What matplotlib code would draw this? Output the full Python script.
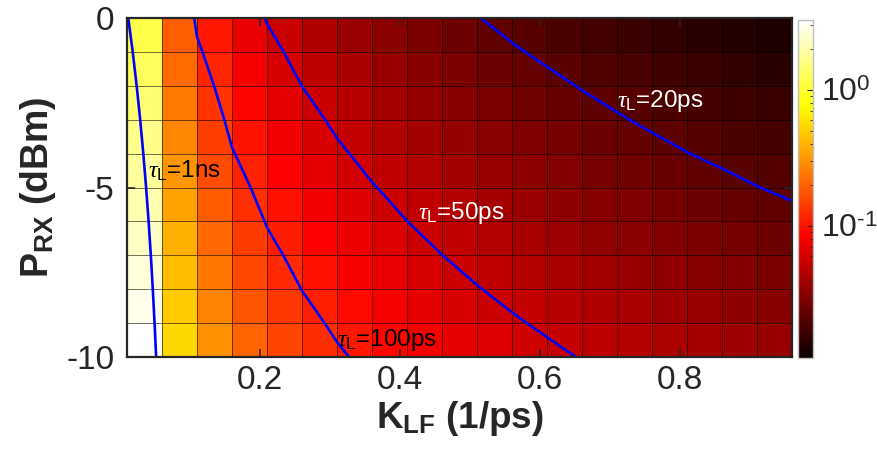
import matplotlib
matplotlib.use("Agg")
import matplotlib.pyplot as plt
import numpy as np
from matplotlib.colors import LogNorm

plt.rcParams["font.family"] = ["Liberation Sans", "DejaVu Sans"]
plt.rcParams["mathtext.fontset"] = "custom"
plt.rcParams["mathtext.rm"] = "Liberation Sans"
plt.rcParams["mathtext.it"] = "Liberation Serif:italic"
plt.rcParams["mathtext.bf"] = "Liberation Sans:bold"

# ── data ───────────────────────────────────────────────
k_lf = [0.01, 0.06, 0.11, 0.16, 0.21, 0.26, 0.31, 0.36, 0.41, 0.46,
        0.51, 0.56, 0.61, 0.66, 0.71, 0.76, 0.81, 0.86, 0.91, 0.96]
p_rx = [-10, -9, -8, -7, -6, -5, -4, -3, -2, -1, 0]

# tau_L (ns), one row per P_RX (from -10 dBm up to 0 dBm)
tau_p10 = [3.257, 0.5428, 0.2961, 0.2036, 0.1551, 0.1253, 0.1051, 0.0905, 0.0794, 0.0708,
           0.0639, 0.0582, 0.0534, 0.0493, 0.0459, 0.0429, 0.0402, 0.0379, 0.0358, 0.0339]
tau_p9 = [2.903, 0.4838, 0.2639, 0.1814, 0.1382, 0.1117, 0.0936, 0.0806, 0.0708, 0.0631,
          0.0569, 0.0518, 0.0476, 0.0440, 0.0409, 0.0382, 0.0358, 0.0338, 0.0319, 0.0302]
tau_p8 = [2.587, 0.4312, 0.2352, 0.1617, 0.1232, 0.0995, 0.0835, 0.0719, 0.0631, 0.0562,
          0.0507, 0.0462, 0.0424, 0.0392, 0.0364, 0.0340, 0.0319, 0.0301, 0.0284, 0.0269]
tau_p7 = [2.306, 0.3843, 0.2096, 0.1441, 0.1098, 0.0887, 0.0744, 0.0641, 0.0562, 0.0501,
          0.0452, 0.0412, 0.0378, 0.0349, 0.0325, 0.0303, 0.0285, 0.0268, 0.0253, 0.0240]
tau_p6 = [2.055, 0.3425, 0.1868, 0.1284, 0.0979, 0.0790, 0.0663, 0.0571, 0.0501, 0.0447,
          0.0403, 0.0367, 0.0337, 0.0311, 0.0289, 0.0270, 0.0254, 0.0239, 0.0226, 0.0214]
tau_p5 = [1.832, 0.3053, 0.1665, 0.1145, 0.0872, 0.0705, 0.0591, 0.0509, 0.0447, 0.0398,
          0.0359, 0.0327, 0.0300, 0.0278, 0.0258, 0.0241, 0.0226, 0.0213, 0.0201, 0.0191]
tau_p4 = [1.632, 0.2720, 0.1484, 0.1020, 0.0777, 0.0628, 0.0526, 0.0453, 0.0398, 0.0355,
          0.0320, 0.0291, 0.0268, 0.0247, 0.0230, 0.0215, 0.0201, 0.0190, 0.0179, 0.0170]
tau_p3 = [1.455, 0.2425, 0.1323, 0.0909, 0.0693, 0.0560, 0.0469, 0.0404, 0.0355, 0.0316,
          0.0285, 0.0260, 0.0239, 0.0220, 0.0205, 0.0191, 0.0180, 0.0169, 0.0160, 0.0152]
tau_p2 = [1.297, 0.2162, 0.1179, 0.0811, 0.0618, 0.0499, 0.0418, 0.0360, 0.0316, 0.0282,
          0.0254, 0.0232, 0.0213, 0.0197, 0.0183, 0.0171, 0.0160, 0.0151, 0.0143, 0.0135]
tau_p1 = [1.156, 0.1927, 0.1051, 0.0723, 0.0550, 0.0445, 0.0373, 0.0321, 0.0282, 0.0251,
          0.0227, 0.0206, 0.0190, 0.0175, 0.0163, 0.0152, 0.0143, 0.0134, 0.0127, 0.0120]
tau_p0 = [1.030, 0.1717, 0.0936, 0.0644, 0.0490, 0.0396, 0.0332, 0.0286, 0.0251, 0.0224,
          0.0202, 0.0184, 0.0169, 0.0156, 0.0145, 0.0136, 0.0127, 0.0120, 0.0113, 0.0107]

contour_levels = [0.02, 0.05, 0.1, 1.0]
label_text = [r"$\tau_\mathrm{L}$=20ps", r"$\tau_\mathrm{L}$=50ps",
              r"$\tau_\mathrm{L}$=100ps", r"$\tau_\mathrm{L}$=1ns"]
label_pos = [(0.71, -2.45), (0.425, -5.75), (0.31, -9.5), (0.04, -4.5)]
label_color = ["white", "white", "black", "black"]

tau = np.array([tau_p10, tau_p9, tau_p8, tau_p7, tau_p6, tau_p5,
                tau_p4, tau_p3, tau_p2, tau_p1, tau_p0])
K = np.array(k_lf)
P = np.array(p_rx)

# ── plot ───────────────────────────────────────────────
fig = plt.figure(figsize=(8.78, 4.62), dpi=100)
ax = fig.add_axes([0.1447, 0.227, 0.7573, 0.734])
cax = fig.add_axes([0.909, 0.225, 0.0171, 0.732])

norm = LogNorm(vmin=tau.min(), vmax=tau.max())
# MATLAB pcolor: each face takes the colour of its lower-left node
mesh = ax.pcolormesh(K, P, tau[:-1, :-1], cmap="hot", norm=norm, shading="flat",
                     edgecolors=(0, 0, 0, 0.55), linewidth=0.6)
ax.contour(K, P, tau, levels=contour_levels, colors="#0000ff", linewidths=1.9)

for txt, (x, y), c in zip(label_text, label_pos, label_color):
    ax.text(x, y, txt, color=c, fontsize=17.5, ha="left", va="center")

ax.set_xlim(K[0], K[-1])
ax.set_ylim(-10, 0)
ax.set_xticks([0.2, 0.4, 0.6, 0.8])
ax.set_xticklabels(["0.2", "0.4", "0.6", "0.8"])
ax.set_yticks([-10, -5, 0])
ax.set_yticklabels(["-10", "-5", "0"])
ax.tick_params(direction="in", length=6, width=1.2, labelsize=24, colors="#262626",
               top=True, right=True, pad=6)
ax.tick_params(axis="y", pad=9)
for sp in ax.spines.values():
    sp.set_linewidth(1.6)
    sp.set_color("#262626")
ax.set_xlabel(r"K$_\mathbf{LF}$ (1/ps)", fontsize=26.5, fontweight="bold", color="#262626", labelpad=2)
ax.set_ylabel(r"P$_\mathbf{RX}$ (dBm)", fontsize=27, fontweight="bold", color="#262626", labelpad=6)

cb = fig.colorbar(mesh, cax=cax)
cb.set_ticks([0.1, 1.0])
cb.set_ticklabels([r"10$^{\text{-1}}$", r"10$^{\text{0}}$"])
cb.ax.tick_params(which="both", direction="in", labelsize=23, colors="#262626", pad=6)
cb.ax.tick_params(which="major", length=4)
cb.ax.tick_params(which="minor", length=2)
cb.outline.set_edgecolor("#bfbfbf")
cb.outline.set_linewidth(1.0)

fig.savefig("out.png", dpi=100)
